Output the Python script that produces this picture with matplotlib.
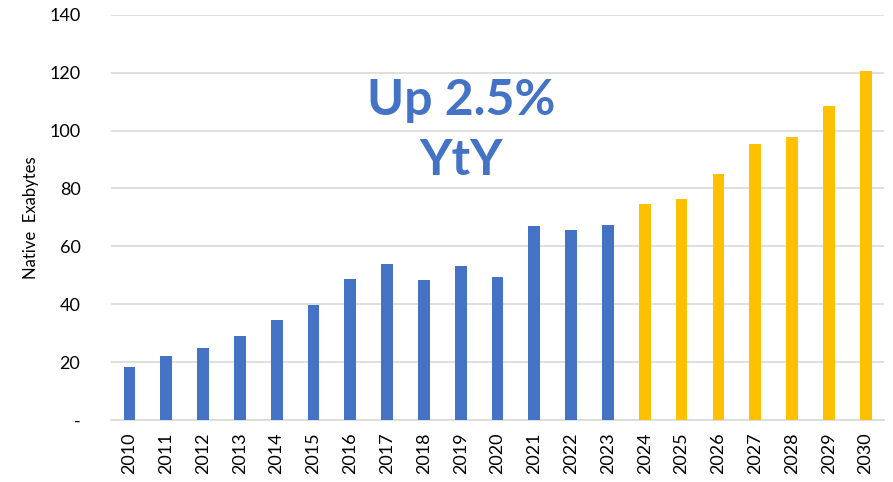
import numpy as np
import matplotlib.pyplot as plt

plt.rcParams['font.family'] = ['Lato', 'DejaVu Sans']

# data
years = [str(y) for y in range(2010, 2031)]
actual = [18.4, 22.2, 24.8, 29.1, 34.5, 39.7, 48.6, 53.9, 48.3, 53.2,
          49.4, 66.9, 65.6, 67.2]
forecast = [74.7, 76.3, 84.9, 95.3, 97.7, 108.4, 120.5]
yticks = [0, 20, 40, 60, 80, 100, 120, 140]
ytick_labels = ['-', '20', '40', '60', '80', '100', '120', '140']

values = actual + forecast
colors = ['#4472C4'] * len(actual) + ['#FFC000'] * len(forecast)

fig = plt.figure(figsize=(8.93, 4.82), dpi=100)
ax = fig.add_axes([0.1243, 0.1286, 0.8657, 0.8409])

x = np.arange(len(years))
ax.bar(x, values, width=0.32, color=colors, zorder=3)

ax.set_xlim(-0.5, len(years) - 0.5)
ax.set_ylim(0, 140)
ax.set_yticks(yticks)
ax.set_yticklabels(ytick_labels, fontsize=13)
ax.set_xticks(x)
ax.set_xticklabels(years, rotation=90, fontsize=13)
ax.tick_params(axis='both', length=0)
ax.tick_params(axis='y', pad=22)
ax.tick_params(axis='x', pad=9)

ax.grid(axis='y', color='#D9D9D9', lw=1.2, zorder=0)
for s in ['top', 'right', 'left']:
    ax.spines[s].set_visible(False)
ax.spines['bottom'].set_color('#D9D9D9')
ax.spines['bottom'].set_linewidth(1.2)

ax.set_ylabel('Native  Exabytes', fontsize=12)
ax.yaxis.set_label_coords(-0.093, 0.5)

ax.text(9.0, 100, 'Up 2.5%\nYtY', ha='center', va='center', fontsize=36,
        fontweight='bold', color='#4472C4', linespacing=1.4, zorder=4)

fig.savefig('out.png', dpi=100)
